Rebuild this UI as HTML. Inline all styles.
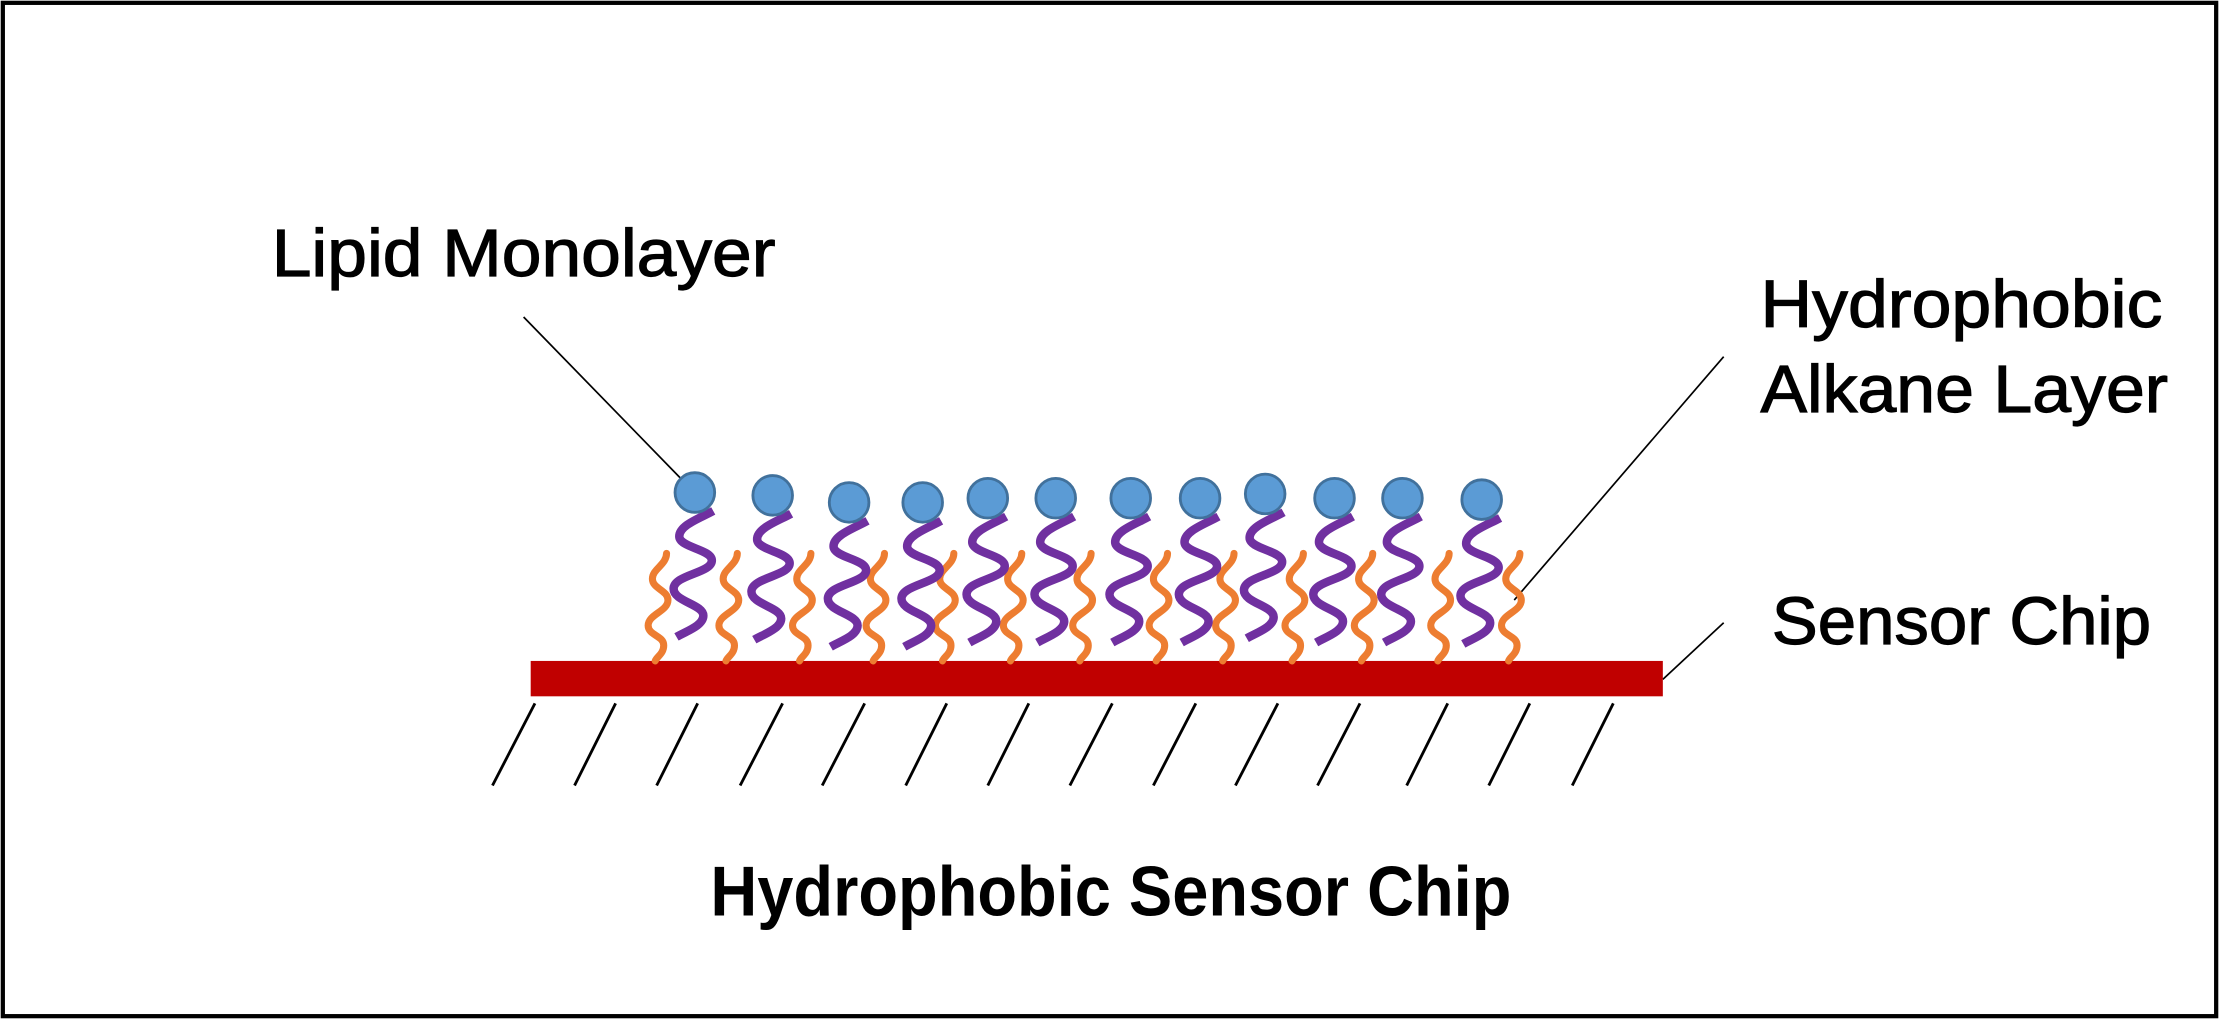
<!DOCTYPE html>
<html><head><meta charset="utf-8"><style>
html,body{margin:0;padding:0;background:#fff;}
svg{display:block;}
text{font-family:"Liberation Sans",sans-serif;fill:#000;}
</style></head><body>
<svg width="2219" height="1019" viewBox="0 0 1568 720" preserveAspectRatio="none" xmlns="http://www.w3.org/2000/svg">
<rect x="2" y="2" width="1564" height="716" fill="#fff" stroke="#000" stroke-width="3"/>
<g stroke="#000" stroke-width="1.2">
<line x1="370" y1="224" x2="481" y2="338"/>
<line x1="1218" y1="252" x2="1070" y2="424"/>
<line x1="1218" y1="440" x2="1175" y2="480"/>
</g>
<g stroke="#000" stroke-width="2">
<line x1="348" y1="555" x2="378" y2="497"/>
<line x1="406" y1="555" x2="435" y2="497"/>
<line x1="464" y1="555" x2="493" y2="497"/>
<line x1="523" y1="555" x2="553" y2="497"/>
<line x1="581" y1="555" x2="611" y2="497"/>
<line x1="640" y1="555" x2="669" y2="497"/>
<line x1="698" y1="555" x2="727" y2="497"/>
<line x1="756" y1="555" x2="786" y2="497"/>
<line x1="815" y1="555" x2="845" y2="497"/>
<line x1="873" y1="555" x2="903" y2="497"/>
<line x1="931" y1="555" x2="961" y2="497"/>
<line x1="994" y1="555" x2="1023" y2="497"/>
<line x1="1052" y1="555" x2="1081" y2="497"/>
<line x1="1111" y1="555" x2="1140" y2="497"/>
</g>
<rect x="375" y="467" width="800" height="25" fill="#c00000"/>
<defs>
<path id="o" d="M8,-76 C8,-68 -2,-65 -2,-58 C-2,-51 9,-50 9,-43 C9,-35 -5,-33 -5,-25 C-5,-18 6,-18 6,-11 C6,-5 1,-3 0,0" fill="none" stroke="#ed7d31" stroke-width="5" stroke-linecap="round"/>
<path id="p" d="M13,13 C4,18 -11,23 -11,31 C-11,39 12,40 12,48 C12,57 -15,58 -15,68 C-15,77 6,79 6,87 C6,94 -6,98 -13,102" fill="none" stroke="#7030a0" stroke-width="6" stroke-linecap="butt"/>
<g id="h"><use href="#p"/><circle r="14" fill="#5b9bd5" stroke="#41719c" stroke-width="2"/></g>
</defs>
<use href="#o" x="463" y="467"/><use href="#o" x="513" y="467"/><use href="#o" x="565" y="467"/>
<use href="#o" x="617" y="467"/><use href="#o" x="666" y="467"/><use href="#o" x="714" y="467"/>
<use href="#o" x="763" y="467"/><use href="#o" x="817" y="467"/><use href="#o" x="864" y="467"/>
<use href="#o" x="913" y="467"/><use href="#o" x="962" y="467"/><use href="#o" x="1016" y="467"/>
<use href="#o" x="1066" y="467"/>
<use href="#h" x="491" y="348"/><use href="#h" x="546" y="350"/><use href="#h" x="600" y="355"/>
<use href="#h" x="652" y="355"/><use href="#h" x="698" y="352"/><use href="#h" x="746" y="352"/>
<use href="#h" x="799" y="352"/><use href="#h" x="848" y="352"/><use href="#h" x="894" y="349"/>
<use href="#h" x="943" y="352"/><use href="#h" x="991" y="352"/><use href="#h" x="1047" y="353"/>
<g stroke="#000" stroke-width="0.8">
<text x="192" y="195" font-size="47" textLength="356" lengthAdjust="spacingAndGlyphs">Lipid Monolayer</text>
<text x="1244" y="231" font-size="47" textLength="284" lengthAdjust="spacingAndGlyphs">Hydrophobic</text>
<text x="1244" y="291" font-size="47" textLength="288" lengthAdjust="spacingAndGlyphs">Alkane Layer</text>
<text x="1252" y="455" font-size="47" textLength="268" lengthAdjust="spacingAndGlyphs">Sensor Chip</text>
</g>
<text x="502" y="647" font-size="50" font-weight="bold" textLength="566" lengthAdjust="spacingAndGlyphs">Hydrophobic Sensor Chip</text>
</svg>
</body></html>
